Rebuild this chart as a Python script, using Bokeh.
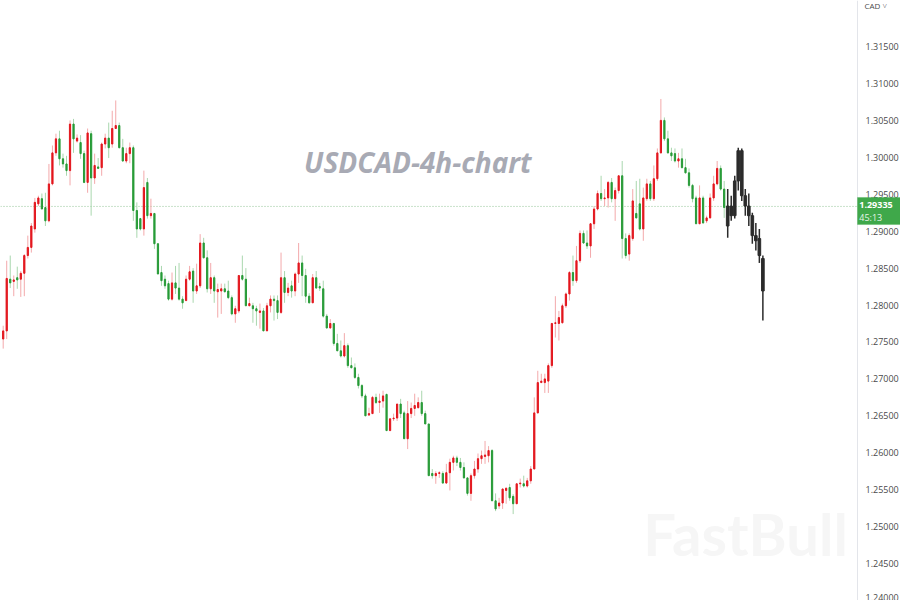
from bokeh.plotting import figure
from bokeh.models import (Range1d, Span, Label, FixedTicker, NumeralTickFormatter,
                          ColumnDataSource, BoxAnnotation)
from bokeh.embed import file_html
from bokeh.resources import INLINE

# ---- data (USDCAD 4h candles) ----
opens = [1.2754,1.2765,1.2835,1.2832,1.2837,1.2835,1.2843,1.2867,1.2878,1.2903,
         1.2937,1.2944,1.2932,1.2914,1.2964,1.3006,1.3025,1.2998,1.2991,1.2982,
         1.3045,1.3022,1.3020,1.3005,1.2966,1.3032,1.2972,1.2987,1.2986,1.3018,
         1.3026,1.3018,1.3039,1.3043,1.3013,1.2995,1.3005,1.3013,1.2928,1.2917,
         1.2903,1.2966,1.2921,1.2924,1.2883,1.2844,1.2835,1.2829,1.2808,1.2830,
         1.2823,1.2808,1.2806,1.2835,1.2846,1.2819,1.2826,1.2884,1.2864,1.2822,
         1.2837,1.2818,1.2819,1.2822,1.2819,1.2810,1.2788,1.2792,1.2840,1.2835,
         1.2799,1.2799,1.2795,1.2790,1.2792,1.2765,1.2799,1.2808,1.2806,1.2790,
         1.2837,1.2817,1.2826,1.2819,1.2842,1.2857,1.2840,1.2812,1.2803,1.2837,
         1.2825,1.2822,1.2785,1.2769,1.2775,1.2748,1.2738,1.2731,1.2745,1.2718,
         1.2715,1.2702,1.2691,1.2677,1.2651,1.2653,1.2675,1.2668,1.2670,1.2679,
         1.2630,1.2646,1.2647,1.2666,1.2654,1.2619,1.2653,1.2660,1.2661,1.2668,
         1.2653,1.2639,1.2572,1.2569,1.2572,1.2572,1.2559,1.2573,1.2587,1.2593,
         1.2587,1.2580,1.2566,1.2545,1.2569,1.2578,1.2592,1.2595,1.2596,1.2603,
         1.2535,1.2528,1.2532,1.2549,1.2553,1.2541,1.2531,1.2558,1.2558,1.2555,
         1.2562,1.2578,1.2654,1.2695,1.2695,1.2697,1.2718,1.2775,1.2775,1.2776,
         1.2799,1.2815,1.2844,1.2833,1.2860,1.2897,1.2884,1.2880,1.2910,1.2930,
         1.2951,1.2944,1.2945,1.2966,1.2944,1.2955,1.2975,1.2890,1.2869,1.2890,
         1.2924,1.2937,1.2903,1.2944,1.2964,1.2944,1.2971,1.3006,1.3050,1.3025,
         1.3006,1.3005,1.2995,1.2998,1.2986,1.2979,1.2962,1.2945,1.2910,1.2945,
         1.2914,1.2918,1.2945,1.2964,1.2985,1.2957]
highs = [1.2772,1.2860,1.2867,1.2840,1.2852,1.2846,1.2869,1.2894,1.2911,1.2945,
         1.2948,1.2951,1.2952,1.2991,1.3016,1.3032,1.3036,1.3005,1.3002,1.3050,
         1.3052,1.3031,1.3030,1.3009,1.3039,1.3036,1.3005,1.2999,1.3020,1.3032,
         1.3047,1.3063,1.3077,1.3047,1.3025,1.3013,1.3020,1.3016,1.2939,1.2918,
         1.2982,1.2972,1.2944,1.2924,1.2884,1.2853,1.2840,1.2833,1.2844,1.2853,
         1.2857,1.2812,1.2840,1.2853,1.2850,1.2856,1.2896,1.2891,1.2874,1.2857,
         1.2840,1.2829,1.2829,1.2829,1.2833,1.2813,1.2799,1.2840,1.2867,1.2850,
         1.2810,1.2803,1.2799,1.2802,1.2796,1.2803,1.2813,1.2813,1.2813,1.2871,
         1.2846,1.2830,1.2833,1.2844,1.2884,1.2867,1.2849,1.2816,1.2842,1.2846,
         1.2830,1.2833,1.2788,1.2781,1.2776,1.2761,1.2752,1.2762,1.2748,1.2729,
         1.2721,1.2707,1.2693,1.2680,1.2661,1.2677,1.2680,1.2680,1.2684,1.2680,
         1.2646,1.2653,1.2666,1.2673,1.2657,1.2670,1.2668,1.2680,1.2675,1.2684,
         1.2657,1.2639,1.2578,1.2575,1.2575,1.2575,1.2585,1.2592,1.2596,1.2596,
         1.2593,1.2587,1.2566,1.2572,1.2589,1.2599,1.2603,1.2616,1.2609,1.2605,
         1.2545,1.2539,1.2551,1.2553,1.2558,1.2544,1.2558,1.2565,1.2569,1.2566,
         1.2582,1.2675,1.2711,1.2707,1.2707,1.2721,1.2776,1.2812,1.2792,1.2802,
         1.2817,1.2846,1.2867,1.2880,1.2901,1.2901,1.2901,1.2911,1.2934,1.2955,
         1.2975,1.2957,1.2968,1.2972,1.2959,1.2975,1.2995,1.2897,1.2897,1.2957,
         1.2968,1.2971,1.2959,1.2971,1.2968,1.2989,1.3012,1.3079,1.3054,1.3036,
         1.3013,1.3012,1.3006,1.3012,1.2998,1.2985,1.2964,1.2948,1.2962,1.2948,
         1.2921,1.2951,1.2975,1.2995,1.2989,1.2968]
lows = [1.2741,1.2754,1.2823,1.2812,1.2822,1.2811,1.2812,1.2863,1.2871,1.2898,
        1.2934,1.2930,1.2907,1.2912,1.2962,1.3002,1.2989,1.2986,1.2975,1.2962,
        1.3006,1.3020,1.2998,1.2965,1.2952,1.2921,1.2964,1.2985,1.2975,1.3012,
        1.2999,1.3013,1.3039,1.3012,1.2994,1.2992,1.2992,1.2914,1.2891,1.2901,
        1.2894,1.2917,1.2917,1.2876,1.2842,1.2826,1.2822,1.2806,1.2806,1.2815,
        1.2806,1.2795,1.2806,1.2833,1.2803,1.2815,1.2823,1.2863,1.2817,1.2815,
        1.2803,1.2783,1.2788,1.2817,1.2808,1.2786,1.2776,1.2789,1.2833,1.2799,
        1.2799,1.2776,1.2772,1.2768,1.2765,1.2765,1.2790,1.2779,1.2781,1.2788,
        1.2803,1.2812,1.2810,1.2812,1.2830,1.2812,1.2803,1.2802,1.2803,1.2822,
        1.2819,1.2783,1.2768,1.2768,1.2745,1.2738,1.2729,1.2729,1.2715,1.2715,
        1.2700,1.2687,1.2674,1.2650,1.2650,1.2653,1.2666,1.2654,1.2661,1.2630,
        1.2630,1.2643,1.2643,1.2647,1.2619,1.2605,1.2647,1.2650,1.2660,1.2650,
        1.2639,1.2569,1.2565,1.2558,1.2566,1.2558,1.2558,1.2549,1.2576,1.2582,
        1.2576,1.2565,1.2542,1.2535,1.2565,1.2573,1.2585,1.2585,1.2587,1.2535,
        1.2521,1.2524,1.2524,1.2531,1.2535,1.2517,1.2531,1.2553,1.2553,1.2553,
        1.2558,1.2578,1.2653,1.2695,1.2681,1.2681,1.2715,1.2756,1.2752,1.2775,
        1.2796,1.2806,1.2826,1.2830,1.2857,1.2883,1.2876,1.2864,1.2903,1.2928,
        1.2941,1.2934,1.2932,1.2939,1.2914,1.2951,1.2863,1.2863,1.2860,1.2887,
        1.2917,1.2901,1.2887,1.2941,1.2941,1.2941,1.2968,1.3005,1.3022,1.3005,
        1.2995,1.2993,1.2986,1.2985,1.2978,1.2959,1.2939,1.2910,1.2910,1.2911,
        1.2911,1.2917,1.2941,1.2962,1.2955,1.2918]
closes = [1.2765,1.2836,1.2830,1.2834,1.2834,1.2843,1.2867,1.2878,1.2907,1.2939,
          1.2945,1.2930,1.2914,1.2964,1.3006,1.3025,1.2998,1.2991,1.2982,1.3045,
          1.3025,1.3026,1.3005,1.2966,1.3033,1.2972,1.2989,1.2985,1.3018,1.3026,
          1.3013,1.3039,1.3043,1.3013,1.2995,1.3005,1.3013,1.2928,1.2903,1.2903,
          1.2959,1.2921,1.2924,1.2883,1.2842,1.2833,1.2826,1.2808,1.2830,1.2823,
          1.2808,1.2803,1.2835,1.2845,1.2819,1.2826,1.2884,1.2864,1.2822,1.2837,
          1.2819,1.2821,1.2822,1.2818,1.2810,1.2788,1.2795,1.2840,1.2835,1.2799,
          1.2802,1.2795,1.2792,1.2792,1.2765,1.2799,1.2808,1.2806,1.2790,1.2837,
          1.2817,1.2823,1.2819,1.2842,1.2857,1.2840,1.2812,1.2803,1.2837,1.2823,
          1.2823,1.2785,1.2769,1.2775,1.2748,1.2738,1.2731,1.2745,1.2718,1.2715,
          1.2702,1.2691,1.2677,1.2650,1.2653,1.2675,1.2668,1.2670,1.2677,1.2630,
          1.2646,1.2647,1.2666,1.2653,1.2619,1.2653,1.2660,1.2664,1.2668,1.2653,
          1.2639,1.2569,1.2569,1.2572,1.2573,1.2559,1.2573,1.2587,1.2593,1.2587,
          1.2580,1.2566,1.2545,1.2569,1.2578,1.2592,1.2596,1.2597,1.2603,1.2535,
          1.2524,1.2532,1.2551,1.2552,1.2539,1.2531,1.2558,1.2559,1.2555,1.2562,
          1.2578,1.2654,1.2695,1.2697,1.2700,1.2718,1.2775,1.2776,1.2783,1.2799,
          1.2815,1.2844,1.2833,1.2860,1.2897,1.2884,1.2880,1.2910,1.2930,1.2951,
          1.2944,1.2945,1.2966,1.2944,1.2955,1.2975,1.2890,1.2867,1.2894,1.2941,
          1.2918,1.2903,1.2945,1.2964,1.2944,1.2971,1.3006,1.3050,1.3025,1.3006,
          1.3002,1.2995,1.2998,1.2986,1.2979,1.2962,1.2944,1.2910,1.2945,1.2911,
          1.2918,1.2945,1.2964,1.2985,1.2957,1.2932]

# hand-drawn projection (black bars)
proj_open  = [1.2907,1.2934,1.2921,1.2968,1.3009,1.2948,1.2934,1.2921,1.2894,1.2890,1.2863]
proj_high  = [1.2957,1.2948,1.2975,1.3013,1.3012,1.2957,1.2951,1.2925,1.2911,1.2903,1.2867]
proj_low   = [1.2891,1.2914,1.2917,1.2955,1.2941,1.2921,1.2907,1.2883,1.2874,1.2857,1.2779]
proj_close = [1.2934,1.2921,1.2968,1.3009,1.2948,1.2934,1.2921,1.2894,1.2887,1.2867,1.2819]

last_price = 1.29335
countdown = "45:13"
price_ticks = [1.240, 1.245, 1.250, 1.255, 1.260, 1.265, 1.270, 1.275,
               1.280, 1.285, 1.290, 1.295, 1.300, 1.305, 1.310, 1.315]
chart_title = "USDCAD-4h-chart"
watermark = "FastBull"
currency = "CAD ˅"

# ---- colours ----
UP_BODY, UP_WICK = "#e3161d", "#f3a9ab"
DN_BODY, DN_WICK = "#279b37", "#a9d7ae"
PROJ = "#2b2b2b"
TAG = "#3fa84a"

n = len(opens)
def split(cond):
    d = dict(x=[], top=[], bottom=[], high=[], low=[])
    for i in range(n):
        if cond(opens[i], closes[i]):
            d["x"].append(i)
            d["top"].append(max(opens[i], closes[i]))
            d["bottom"].append(min(opens[i], closes[i]))
            d["high"].append(highs[i])
            d["low"].append(lows[i])
    return ColumnDataSource(d)

up_src = split(lambda o, c: c >= o)
dn_src = split(lambda o, c: c < o)
pj_src = ColumnDataSource(dict(
    x=list(range(n, n + len(proj_open))),
    top=[max(a, b) for a, b in zip(proj_open, proj_close)],
    bottom=[min(a, b) for a, b in zip(proj_open, proj_close)],
    high=proj_high, low=proj_low))

AXIS_X = 242.9          # position of the price scale (x index units)
p = figure(frame_width=900, frame_height=600, output_backend="svg",
           toolbar_location=None, y_axis_location="right",
           x_range=Range1d(-0.768, 255.13), y_range=Range1d(1.2400, 1.32123),
           min_border_left=0, min_border_top=0, min_border_bottom=0, min_border_right=0)
p.xaxis.visible = False
p.xgrid.visible = False
p.ygrid.visible = False
p.outline_line_color = None
p.background_fill_color = "white"
p.border_fill_color = "white"

ax = p.yaxis[0]
ax.fixed_location = AXIS_X
ax.ticker = FixedTicker(ticks=price_ticks)
ax.formatter = NumeralTickFormatter(format="0.00000")
ax.major_tick_line_color = None
ax.minor_tick_line_color = None
ax.major_tick_out = 0
ax.major_tick_in = 0
ax.major_label_standoff = 8
ax.axis_line_color = "#e3e5ea"
ax.major_label_text_font = "Open Sans"
ax.major_label_text_font_size = "9px"
ax.major_label_text_color = "#4a4a4a"

# watermark and title
p.add_layout(Label(x=211.06, y=1.2491, text=watermark, text_font="Lato", text_font_style="bold",
                   text_font_size="58px", text_color="#f6f6f6", text_align="center",
                   text_baseline="middle", level="underlay"))
p.add_layout(Label(x=117.9, y=1.2993, text=chart_title, text_font="Open Sans",
                   text_font_style="bold italic", text_font_size="28px",
                   text_color="#a8aab4", text_align="center", text_baseline="middle"))

# last price line (stops at the price scale)
p.segment(x0=[-0.768], y0=[last_price], x1=[AXIS_X], y1=[last_price],
          line_color="#93c597", line_dash="1 2", line_width=1)

# wicks and bodies
for src, body, wick in ((up_src, UP_BODY, UP_WICK), (dn_src, DN_BODY, DN_WICK)):
    p.segment(x0="x", y0="low", x1="x", y1="high", source=src, line_color=wick, line_width=1)
    p.vbar(x="x", top="top", bottom="bottom", width=0.35, source=src,
           fill_color=body, line_color=body, line_width=1)

p.segment(x0="x", y0="low", x1="x", y1="high", source=pj_src, line_color=PROJ, line_width=1.5)
p.vbar(x="x", top="top", bottom="bottom", width=0.75, source=pj_src,
       fill_color=PROJ, line_color=PROJ, line_width=1)

# price tag on the scale
p.add_layout(BoxAnnotation(left=AXIS_X, right=255.13, top=last_price + 0.00121,
                           bottom=last_price - 0.00245, fill_color=TAG, fill_alpha=1.0,
                           line_color=TAG, level="overlay"))
p.add_layout(Label(x=AXIS_X + 0.5, y=last_price + 0.00014, text=f"{last_price:.5f}",
                   text_font="Open Sans", text_font_size="9px", text_font_style="bold",
                   text_color="white", text_align="left", text_baseline="middle",
                   level="overlay"))
p.add_layout(Label(x=AXIS_X + 0.5, y=last_price - 0.00145, text=countdown,
                   text_font="Open Sans", text_font_size="9px", text_color="#e6f4e7",
                   text_align="left", text_baseline="middle", level="overlay"))
p.add_layout(Label(x=244.9, y=1.3205, text=currency, text_font="Open Sans",
                   text_font_size="8px", text_color="#4a4a4a", text_align="left",
                   text_baseline="middle"))

open("out.html", "w").write(file_html(p, INLINE))
